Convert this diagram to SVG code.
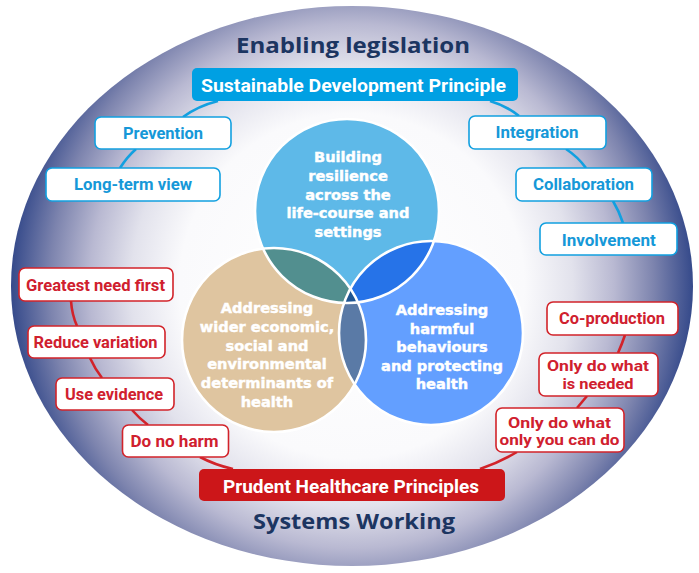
<svg xmlns="http://www.w3.org/2000/svg" width="699" height="573" viewBox="0 0 699 573">
<defs>
<radialGradient id="bg" gradientUnits="userSpaceOnUse" cx="352" cy="286" r="345">
<stop offset="0" stop-color="#ffffff"/>
<stop offset="0.5" stop-color="#fafafc"/>
<stop offset="0.64" stop-color="#e2e2ec"/>
<stop offset="0.76" stop-color="#b9b9d2"/>
<stop offset="0.875" stop-color="#7d84ae"/>
<stop offset="1" stop-color="#2e4487"/>
</radialGradient>
<clipPath id="cT"><circle cx="347" cy="211" r="92"/></clipPath>
<clipPath id="cL"><circle cx="274" cy="340" r="92"/></clipPath>
<clipPath id="cR"><circle cx="431" cy="333" r="92"/></clipPath>
</defs>
<style>
.title{font-family:"Open Sans","DejaVu Sans",sans-serif;font-weight:700;font-size:22px;fill:#1c3561;text-anchor:middle}
.hdr{font-family:Roboto,"Liberation Sans",sans-serif;font-weight:700;font-size:17.5px;fill:#ffffff;text-anchor:middle}
.bb{fill:#ffffff;stroke:#12a0e0;stroke-width:1.6}
.rb{fill:#ffffff;stroke:#d2232a;stroke-width:1.6}
.bt{font-family:Roboto,"Liberation Sans",sans-serif;font-weight:700;font-size:16px;fill:#1698d8;text-anchor:middle}
.rt{font-family:Roboto,"Liberation Sans",sans-serif;font-weight:700;font-size:16px;fill:#d0202e;text-anchor:middle}
.rt2{font-family:Roboto,"Liberation Sans",sans-serif;font-weight:700;font-size:15px;fill:#d0202e;text-anchor:middle}
.ct{font-family:"DejaVu Sans",Verdana,sans-serif;font-weight:700;font-size:14.6px;fill:#ffffff;stroke:#ffffff;stroke-width:0.45;text-anchor:middle}
.bl{fill:none;stroke:#12a0e0;stroke-width:2.6}
.rl{fill:none;stroke:#d2232a;stroke-width:2.6}
.ring{fill:none;stroke:#ffffff;stroke-width:2.6}
</style>
<ellipse id="background" cx="352" cy="286" rx="341" ry="280" fill="url(#bg)"/>
<g id="connectors">
<path class="bl" d="M218,101 Q198,106 183,117"/>
<path class="bl" d="M136,149 Q127,157 120,168"/>
<path class="bl" d="M490,101 Q507,106 519,116"/>
<path class="bl" d="M566,149 Q578,157 586,168"/>
<path class="bl" d="M613,201 Q619,211 623,223"/>
<path class="rl" d="M71,301 Q72,315 77,326"/>
<path class="rl" d="M90,358 Q95,369 102,378"/>
<path class="rl" d="M132,410 Q139,418 148,425"/>
<path class="rl" d="M200,457 Q215,465 233,469"/>
<path class="rl" d="M625,335 Q622,344 618,353"/>
<path class="rl" d="M587,396 Q582,402 577,408"/>
<path class="rl" d="M517,452 Q500,462 480,469"/>
</g>
<g id="venn">
<circle cx="347" cy="211" r="92" fill="#5eb9e8"/>
<circle cx="274" cy="340" r="92" fill="#dfc5a0"/>
<circle cx="431" cy="333" r="92" fill="#639fff"/>
<circle cx="274" cy="340" r="92" fill="#528f8f" clip-path="url(#cT)"/>
<circle cx="431" cy="333" r="92" fill="#2673e8" clip-path="url(#cT)"/>
<circle cx="431" cy="333" r="92" fill="#5a7aa6" clip-path="url(#cL)"/>
<g clip-path="url(#cT)"><circle cx="431" cy="333" r="92" fill="#1f5592" clip-path="url(#cL)"/></g>
<circle class="ring" cx="347" cy="211" r="92"/>
<circle class="ring" cx="274" cy="340" r="92"/>
<circle class="ring" cx="431" cy="333" r="92"/>
</g>
<g id="circle-top">
<text class="ct" x="348" y="162">Building</text>
<text class="ct" x="348" y="180.8">resilience</text>
<text class="ct" x="348" y="199.6">across the</text>
<text class="ct" x="348" y="218.4">life-course and</text>
<text class="ct" x="348" y="237.2">settings</text>
</g>
<g id="circle-left">
<text class="ct" x="267" y="313.3">Addressing</text>
<text class="ct" x="267" y="332">wider economic,</text>
<text class="ct" x="267" y="350.7">social and</text>
<text class="ct" x="267" y="369.4">environmental</text>
<text class="ct" x="267" y="388.1">determinants of</text>
<text class="ct" x="267" y="406.8">health</text>
</g>
<g id="circle-right">
<text class="ct" x="442" y="315">Addressing</text>
<text class="ct" x="442" y="333.5">harmful</text>
<text class="ct" x="442" y="352">behaviours</text>
<text class="ct" x="442" y="370.5">and protecting</text>
<text class="ct" x="442" y="389">health</text>
</g>
<g id="enabling-legislation"><text class="title" x="353" y="53" textLength="234" lengthAdjust="spacingAndGlyphs">Enabling legislation</text></g>
<g id="systems-working"><text class="title" x="354" y="529" textLength="202" lengthAdjust="spacingAndGlyphs">Systems Working</text></g>
<g id="sustainable">
<rect x="192" y="68" width="326" height="33" rx="5" fill="#00a0e3"/>
<text class="hdr" x="353.5" y="91.5" textLength="305" lengthAdjust="spacingAndGlyphs">Sustainable Development Principle</text>
</g>
<g id="prudent">
<rect x="199" y="469" width="306" height="32" rx="5" fill="#cc1619"/>
<text class="hdr" x="351" y="492.5" textLength="256" lengthAdjust="spacingAndGlyphs">Prudent Healthcare Principles</text>
</g>
<g id="prevention"><rect class="bb" x="95" y="117" width="136" height="32" rx="6"/><text class="bt" x="163" y="139.3" textLength="80" lengthAdjust="spacingAndGlyphs">Prevention</text></g>
<g id="long-term"><rect class="bb" x="46" y="168" width="174" height="33" rx="6"/><text class="bt" x="133" y="190" textLength="118" lengthAdjust="spacingAndGlyphs">Long-term view</text></g>
<g id="integration"><rect class="bb" x="469" y="116" width="137" height="33" rx="6"/><text class="bt" x="537" y="138.3" textLength="83" lengthAdjust="spacingAndGlyphs">Integration</text></g>
<g id="collaboration"><rect class="bb" x="516" y="168" width="136" height="33" rx="6"/><text class="bt" x="583.5" y="189.5" textLength="101" lengthAdjust="spacingAndGlyphs">Collaboration</text></g>
<g id="involvement"><rect class="bb" x="540" y="223" width="137" height="32" rx="6"/><text class="bt" x="608.7" y="245.5" textLength="94" lengthAdjust="spacingAndGlyphs">Involvement</text></g>
<g id="greatest-need"><rect class="rb" x="19" y="268" width="154" height="33" rx="6"/><text class="rt" x="95.5" y="291" textLength="139" lengthAdjust="spacingAndGlyphs">Greatest need first</text></g>
<g id="reduce-variation"><rect class="rb" x="28" y="326" width="137" height="32" rx="6"/><text class="rt" x="95.5" y="348.3" textLength="124" lengthAdjust="spacingAndGlyphs">Reduce variation</text></g>
<g id="use-evidence"><rect class="rb" x="56" y="378" width="118" height="32" rx="6"/><text class="rt" x="114" y="399.5" textLength="98" lengthAdjust="spacingAndGlyphs">Use evidence</text></g>
<g id="do-no-harm"><rect class="rb" x="122.5" y="425" width="106" height="32" rx="6"/><text class="rt" x="174.5" y="447.3" textLength="88" lengthAdjust="spacingAndGlyphs">Do no harm</text></g>
<g id="co-production"><rect class="rb" x="547" y="302" width="131" height="33" rx="6"/><text class="rt" x="612" y="324.3" textLength="106" lengthAdjust="spacingAndGlyphs">Co-production</text></g>
<g id="only-needed"><rect class="rb" x="539" y="353" width="119" height="43" rx="6"/><text class="rt2" x="598" y="371.3" textLength="102" lengthAdjust="spacingAndGlyphs">Only do what</text><text class="rt2" x="598" y="389" textLength="71" lengthAdjust="spacingAndGlyphs">is needed</text></g>
<g id="only-you"><rect class="rb" x="496" y="408" width="128" height="44" rx="6"/><text class="rt2" x="559.5" y="427.5" textLength="103" lengthAdjust="spacingAndGlyphs">Only do what</text><text class="rt2" x="559.5" y="445" textLength="120" lengthAdjust="spacingAndGlyphs">only you can do</text></g>
</svg>
